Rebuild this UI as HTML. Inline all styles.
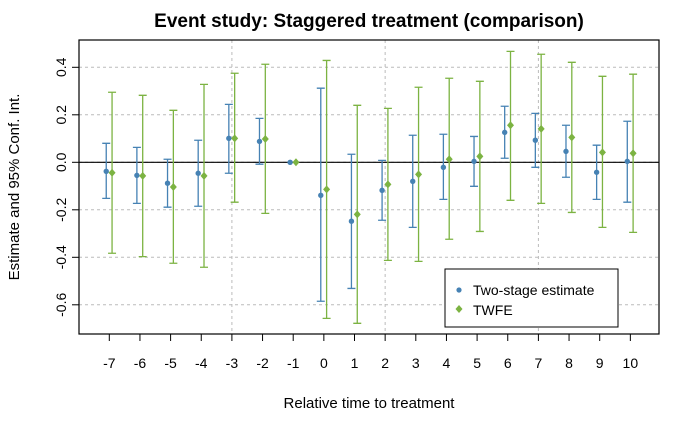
<!DOCTYPE html>
<html><head><meta charset="utf-8"><style>body{margin:0;background:#fff}svg{display:block;font-family:"Liberation Sans",Arial,sans-serif}</style></head>
<body>
<svg id="chart" width="700" height="432" viewBox="0 0 700 432" xmlns="http://www.w3.org/2000/svg">
<rect width="700" height="432" fill="#fff"/>
<text x="369" y="27" text-anchor="middle" font-size="19" font-weight="bold">Event study: Staggered treatment (comparison)</text>
<text x="369" y="408" text-anchor="middle" font-size="15">Relative time to treatment</text>
<text transform="translate(19,187) rotate(-90)" text-anchor="middle" font-size="15">Estimate and 95% Conf. Int.</text>
<g id="grid"></g><g id="axes"></g><g id="marks"></g>
<rect x="79" y="40" width="580" height="294" fill="none" stroke="#000" stroke-width="1.2"/>
<g>
<rect x="445" y="269" width="173" height="58" fill="#fff" stroke="#000"/>
<circle cx="459" cy="290" r="2.6" fill="#4682b4"/>
<text x="473" y="295" font-size="14">Two-stage estimate</text>
<path d="M459 305 L462.5 309 L459 313 L455.5 309Z" fill="#7cb342"/>
<text x="473" y="315" font-size="14">TWFE</text>
</g>
</svg>
<script>
const periods=[-7,-6,-5,-4,-3,-2,-1,0,1,2,3,4,5,6,7,8,9,10];
const twoStageEst=[-0.038,-0.055,-0.088,-0.046,0.101,0.088,0,-0.139,-0.248,-0.118,-0.080,-0.021,0.004,0.126,0.093,0.046,-0.042,0.004];
const twoStageHi=[0.080,0.063,0.013,0.093,0.244,0.185,0,0.312,0.034,0.008,0.114,0.118,0.109,0.236,0.206,0.156,0.072,0.173];
const twoStageLo=[-0.152,-0.173,-0.189,-0.185,-0.046,-0.008,0,-0.585,-0.531,-0.244,-0.274,-0.156,-0.101,0.017,-0.021,-0.063,-0.156,-0.168];
const twfeEst=[-0.044,-0.057,-0.104,-0.057,0.101,0.098,0,-0.114,-0.219,-0.093,-0.051,0.013,0.025,0.156,0.141,0.105,0.042,0.038];
const twfeHi=[0.295,0.282,0.219,0.328,0.375,0.413,0,0.429,0.240,0.227,0.316,0.354,0.341,0.467,0.455,0.421,0.362,0.371];
const twfeLo=[-0.383,-0.397,-0.425,-0.442,-0.168,-0.215,0,-0.657,-0.678,-0.413,-0.417,-0.324,-0.291,-0.160,-0.173,-0.211,-0.274,-0.295];
const yTicks=[-0.6,-0.4,-0.2,0.0,0.2,0.4];
const yTickLabels=["-0.6","-0.4","-0.2","0.0","0.2","0.4"];
const xGrid=[-3,2,7];
const NS="http://www.w3.org/2000/svg";
const X=v=>109.3+(v+7)*30.65;
const Y=v=>162.3-v*237.5;
function mk(parent,tag,attrs){const e=document.createElementNS(NS,tag);for(const k in attrs)e.setAttribute(k,attrs[k]);document.getElementById(parent).appendChild(e);return e;}
yTicks.forEach((t,i)=>{
 const g=mk('grid','line',{x1:79,x2:659,y1:Y(t),y2:Y(t),stroke:'#bbb','stroke-dasharray':'3,3'});
 
 
 const tk=mk('axes','line',{x1:72,x2:79,y1:Y(t),y2:Y(t),stroke:'#000'});
 
 
 const tx=mk('axes','text',{transform:`translate(66,${Y(t)}) rotate(-90)`,'text-anchor':'middle','font-size':14});
 tx.textContent=yTickLabels[i];
 
 
});
xGrid.forEach(p=>{
 const g=mk('grid','line',{x1:X(p),x2:X(p),y1:40,y2:334,stroke:'#bbb','stroke-dasharray':'3,3'});
 
 
});
const z=mk('grid','line',{x1:79,x2:659,y1:Y(0),y2:Y(0),stroke:'#000','stroke-width':1.2});


periods.forEach(p=>{
 const tk=mk('axes','line',{x1:X(p),x2:X(p),y1:334,y2:341,stroke:'#000'});
 
 
 const tx=mk('axes','text',{x:X(p),y:368,'text-anchor':'middle','font-size':14});
 tx.textContent=p;
 
 
});
function series(est,hi,lo,off,col,name,diamond){
 periods.forEach((p,i)=>{
  const x=X(p+off);
  if(hi[i]!==lo[i]){
   const b=mk('marks','path',{d:`M${x} ${Y(hi[i])}V${Y(lo[i])}M${x-4} ${Y(hi[i])}H${x+4}M${x-4} ${Y(lo[i])}H${x+4}`,stroke:col,'stroke-width':1.3,fill:'none'});
   
   
  }
  const y=Y(est[i]);
  let m;
  if(diamond)m=mk('marks','path',{d:`M${x} ${y-4}L${x+3.5} ${y}L${x} ${y+4}L${x-3.5} ${y}Z`,fill:col});
  else m=mk('marks','circle',{cx:x,cy:y,r:2.7,fill:col});
  
  
 });
}
series(twoStageEst,twoStageHi,twoStageLo,-0.1,'#4682b4','two-stage',false);
series(twfeEst,twfeHi,twfeLo,0.09,'#7cb342','twfe',true);
</script>
</body></html>
